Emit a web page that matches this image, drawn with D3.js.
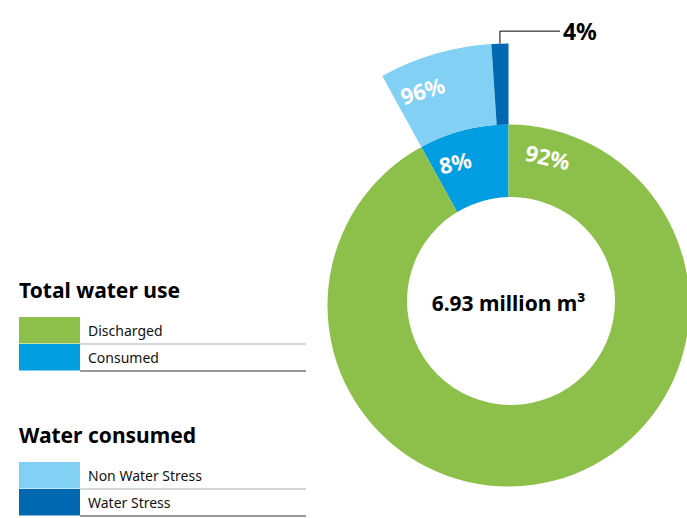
<!DOCTYPE html>
<html>
<head>
<meta charset="utf-8">
<script src="https://cdn.jsdelivr.net/npm/d3@7"></script>
<style>
  html, body { margin: 0; padding: 0; background: #fff; }
  svg { display: block; }
  text { font-family: "Noto Sans", "Open Sans", sans-serif; }
</style>
</head>
<body>
<svg id="chart" width="687" height="518"></svg>
<script>
// Total water use split (percent)
const useCategories = ["Consumed", "Discharged"];
const useValues = [8, 92];
// Consumed water split (percent of consumed)
const consumedCategories = ["Non Water Stress", "Water Stress"];
const consumedValues = [96, 4];
const totalLabel = "6.93 million m³";

const legendGroups = [
  { title: "Total water use", items: ["Discharged", "Consumed"] },
  { title: "Water consumed", items: ["Non Water Stress", "Water Stress"] }
];

const colors = {
  "Discharged": "#8dc04a",
  "Consumed": "#009ee0",
  "Non Water Stress": "#83d0f5",
  "Water Stress": "#0068b1"
};

const svg = d3.select("#chart");
const cx = 508.5, cy = 305.5;
const rInner = 90, rMain = 181, rOuter = 262;
const deg = Math.PI / 180;

// main ring: consumed slice sits just left of 12 o'clock
const useTotal = d3.sum(useValues);
const consumedAngle = 2 * Math.PI * useValues[0] / useTotal;
const pie = d3.pie().sort(null).startAngle(-consumedAngle).endAngle(2 * Math.PI - consumedAngle);
const useArcs = pie(useValues).map((a, i) => ({ ...a, name: useCategories[i] }));

const g = svg.append("g").attr("transform", `translate(${cx},${cy})`);
const arcMain = d3.arc().innerRadius(rInner).outerRadius(rMain);
g.selectAll("path.main").data(useArcs).join("path")
  .attr("class", "main")
  .attr("d", arcMain)
  .attr("fill", d => colors[d.name]);

// centre hole
g.append("circle").attr("cx", 2.5).attr("cy", -4.5).attr("r", 104).attr("fill", "#fff");

// outer ring breaks down the consumed slice; tiny shares get a visible minimum width
const consArc = useArcs[0];
const span = consArc.endAngle - consArc.startAngle;
const consTotal = d3.sum(consumedValues);
const minAngle = 3.75 * deg;
const smallAngle = Math.max(span * consumedValues[1] / consTotal, minAngle);
const outerArcs = [
  { name: consumedCategories[0], value: consumedValues[0], startAngle: consArc.startAngle, endAngle: consArc.endAngle - smallAngle },
  { name: consumedCategories[1], value: consumedValues[1], startAngle: consArc.endAngle - smallAngle, endAngle: consArc.endAngle }
];
const arcOuter = d3.arc().innerRadius(rMain).outerRadius(rOuter);
g.selectAll("path.outer").data(outerArcs).join("path")
  .attr("class", "outer")
  .attr("d", arcOuter)
  .attr("fill", d => colors[d.name]);

// in-slice labels, rotated along the ring
function ringLabel(angle, r, text, rot) {
  const x = Math.sin(angle) * r, y = -Math.cos(angle) * r;
  g.append("text")
    .attr("transform", `translate(${x},${y}) rotate(${rot})`)
    .attr("text-anchor", "middle")
    .attr("dominant-baseline", "central")
    .attr("fill", "#fff")
    .attr("font-weight", 700)
    .attr("font-size", 22)
    .text(text);
}
ringLabel(consArc.startAngle + 8.3 * deg, 153, useValues[0] + "%", -13);
ringLabel(useArcs[1].startAngle + 14.8 * deg, 154, useValues[1] + "%", 13);
ringLabel(outerArcs[0].startAngle + 7 * deg, 232, consumedValues[0] + "%", -17);

// leader for the small water-stress share
const wsMid = (outerArcs[1].startAngle + outerArcs[1].endAngle) / 2;
const lx = Math.sin(wsMid) * rOuter, ly = -Math.cos(wsMid) * rOuter;
g.append("path")
  .attr("d", `M${lx},${ly}V${ly - 12.5}H${lx + 60}`)
  .attr("fill", "none").attr("stroke", "#000").attr("stroke-width", 1);
g.append("text")
  .attr("x", lx + 63).attr("y", ly - 12.5)
  .attr("dominant-baseline", "central")
  .attr("font-weight", 700).attr("font-size", 23).attr("fill", "#000")
  .text(consumedValues[1] + "%");

// total in the centre
g.append("text")
  .attr("x", 0).attr("y", 5)
  .attr("text-anchor", "middle")
  .attr("font-weight", 700).attr("font-size", 21).attr("fill", "#000")
  .text(totalLabel);

// legends
const lg = svg.append("g");
const groupTops = [278, 423];
legendGroups.forEach((grp, gi) => {
  const top = groupTops[gi];
  lg.append("text")
    .attr("x", 19).attr("y", top + 19.5)
    .attr("font-weight", 700).attr("font-size", 21).attr("fill", "#000")
    .text(grp.title);
  grp.items.forEach((name, i) => {
    const y = top + 39 + i * 27;
    lg.append("rect").attr("x", 19).attr("y", y).attr("width", 61).attr("height", 26.5)
      .attr("fill", colors[name]);
    lg.append("line").attr("x1", 80).attr("x2", 306)
      .attr("y1", y + 27).attr("y2", y + 27)
      .attr("stroke", i === grp.items.length - 1 ? "#333" : "#a9b0b8")
      .attr("stroke-width", 1.2);
    lg.append("text").attr("x", 88).attr("y", y + 19)
      .attr("font-size", 14).attr("fill", "#111")
      .text(name);
  });
});
</script>
</body>
</html>
